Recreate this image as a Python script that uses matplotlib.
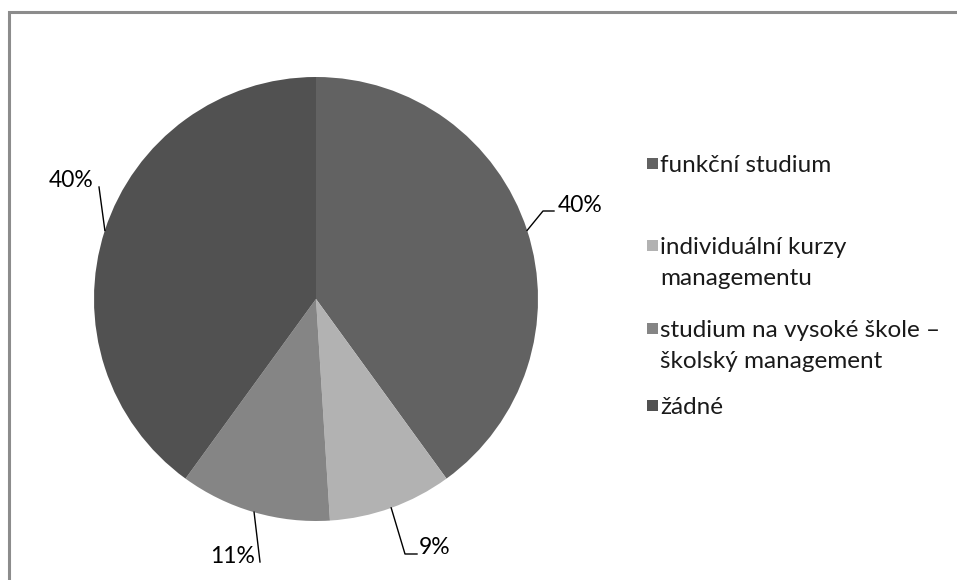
import numpy as np
import matplotlib.pyplot as plt
from matplotlib.patches import Rectangle

plt.rcParams['font.family'] = ['Lato', 'DejaVu Sans']

# Druh vzdělání v oblasti řízení (podíl respondentů)
categories = ['funkční studium',
              'individuální kurzy\nmanagementu',
              'studium na vysoké škole –\nškolský management',
              'žádné']
shares = [40, 9, 11, 40]
colors = ['#626262', '#b2b2b2', '#858585', '#515151']

W, H = 957, 580
fig = plt.figure(figsize=(W / 100, H / 100), dpi=100)
ax = fig.add_axes([0, 0, 1, 1])

# outer chart frame (gray)
fig.patches.append(Rectangle((9 / W, -0.1), 2.0, (H - 12) / H + 0.1, transform=fig.transFigure,
                             fill=False, edgecolor='#8c8c8c', linewidth=2.2))

cx, cy, r = 316, H - 299, 222
wedges, _ = ax.pie(shares, colors=colors, startangle=90, counterclock=False,
                   center=(cx, cy), radius=r, frame=True,
                   wedgeprops=dict(linewidth=0))
ax.set_xlim(0, W)
ax.set_ylim(0, H)
ax.set_aspect('equal')
ax.axis('off')

# label baselines and leader line elbows (pixel coords from top-left)
label_pos = [(558, 212, 'left'), (419, 554, 'left'), (255, 563, 'right'), (93, 187, 'right')]
elbows = [[(543, 211), (554, 211)], [(405, 554), (417, 554)], [(260, 562)], [(99, 187)]]

for w, s, (tx, ty, ha), pts in zip(wedges, shares, label_pos, elbows):
    mid = np.deg2rad((w.theta1 + w.theta2) / 2)
    ex, ey = cx + r * np.cos(mid), cy + r * np.sin(mid)
    xs = [ex] + [p[0] for p in pts]
    ys = [ey] + [H - p[1] for p in pts]
    ax.plot(xs, ys, color='black', linewidth=1)
    ax.text(tx, H - ty, f'{s}%', ha=ha, va='baseline', fontsize=16.5, color='black')

# legend
legend_y = [163, 245, 328, 405]
for lab, c, y in zip(categories, colors, legend_y):
    ax.add_patch(Rectangle((647, H - y - 5.5), 11, 11, facecolor=c, edgecolor='none'))
    for i, line in enumerate(lab.split('\n')):
        ax.text(660, H - (y + 9 + 31 * i), line, ha='left', va='baseline',
                fontsize=17.5, color='#1a1a1a')

fig.savefig('out.png', dpi=100)
